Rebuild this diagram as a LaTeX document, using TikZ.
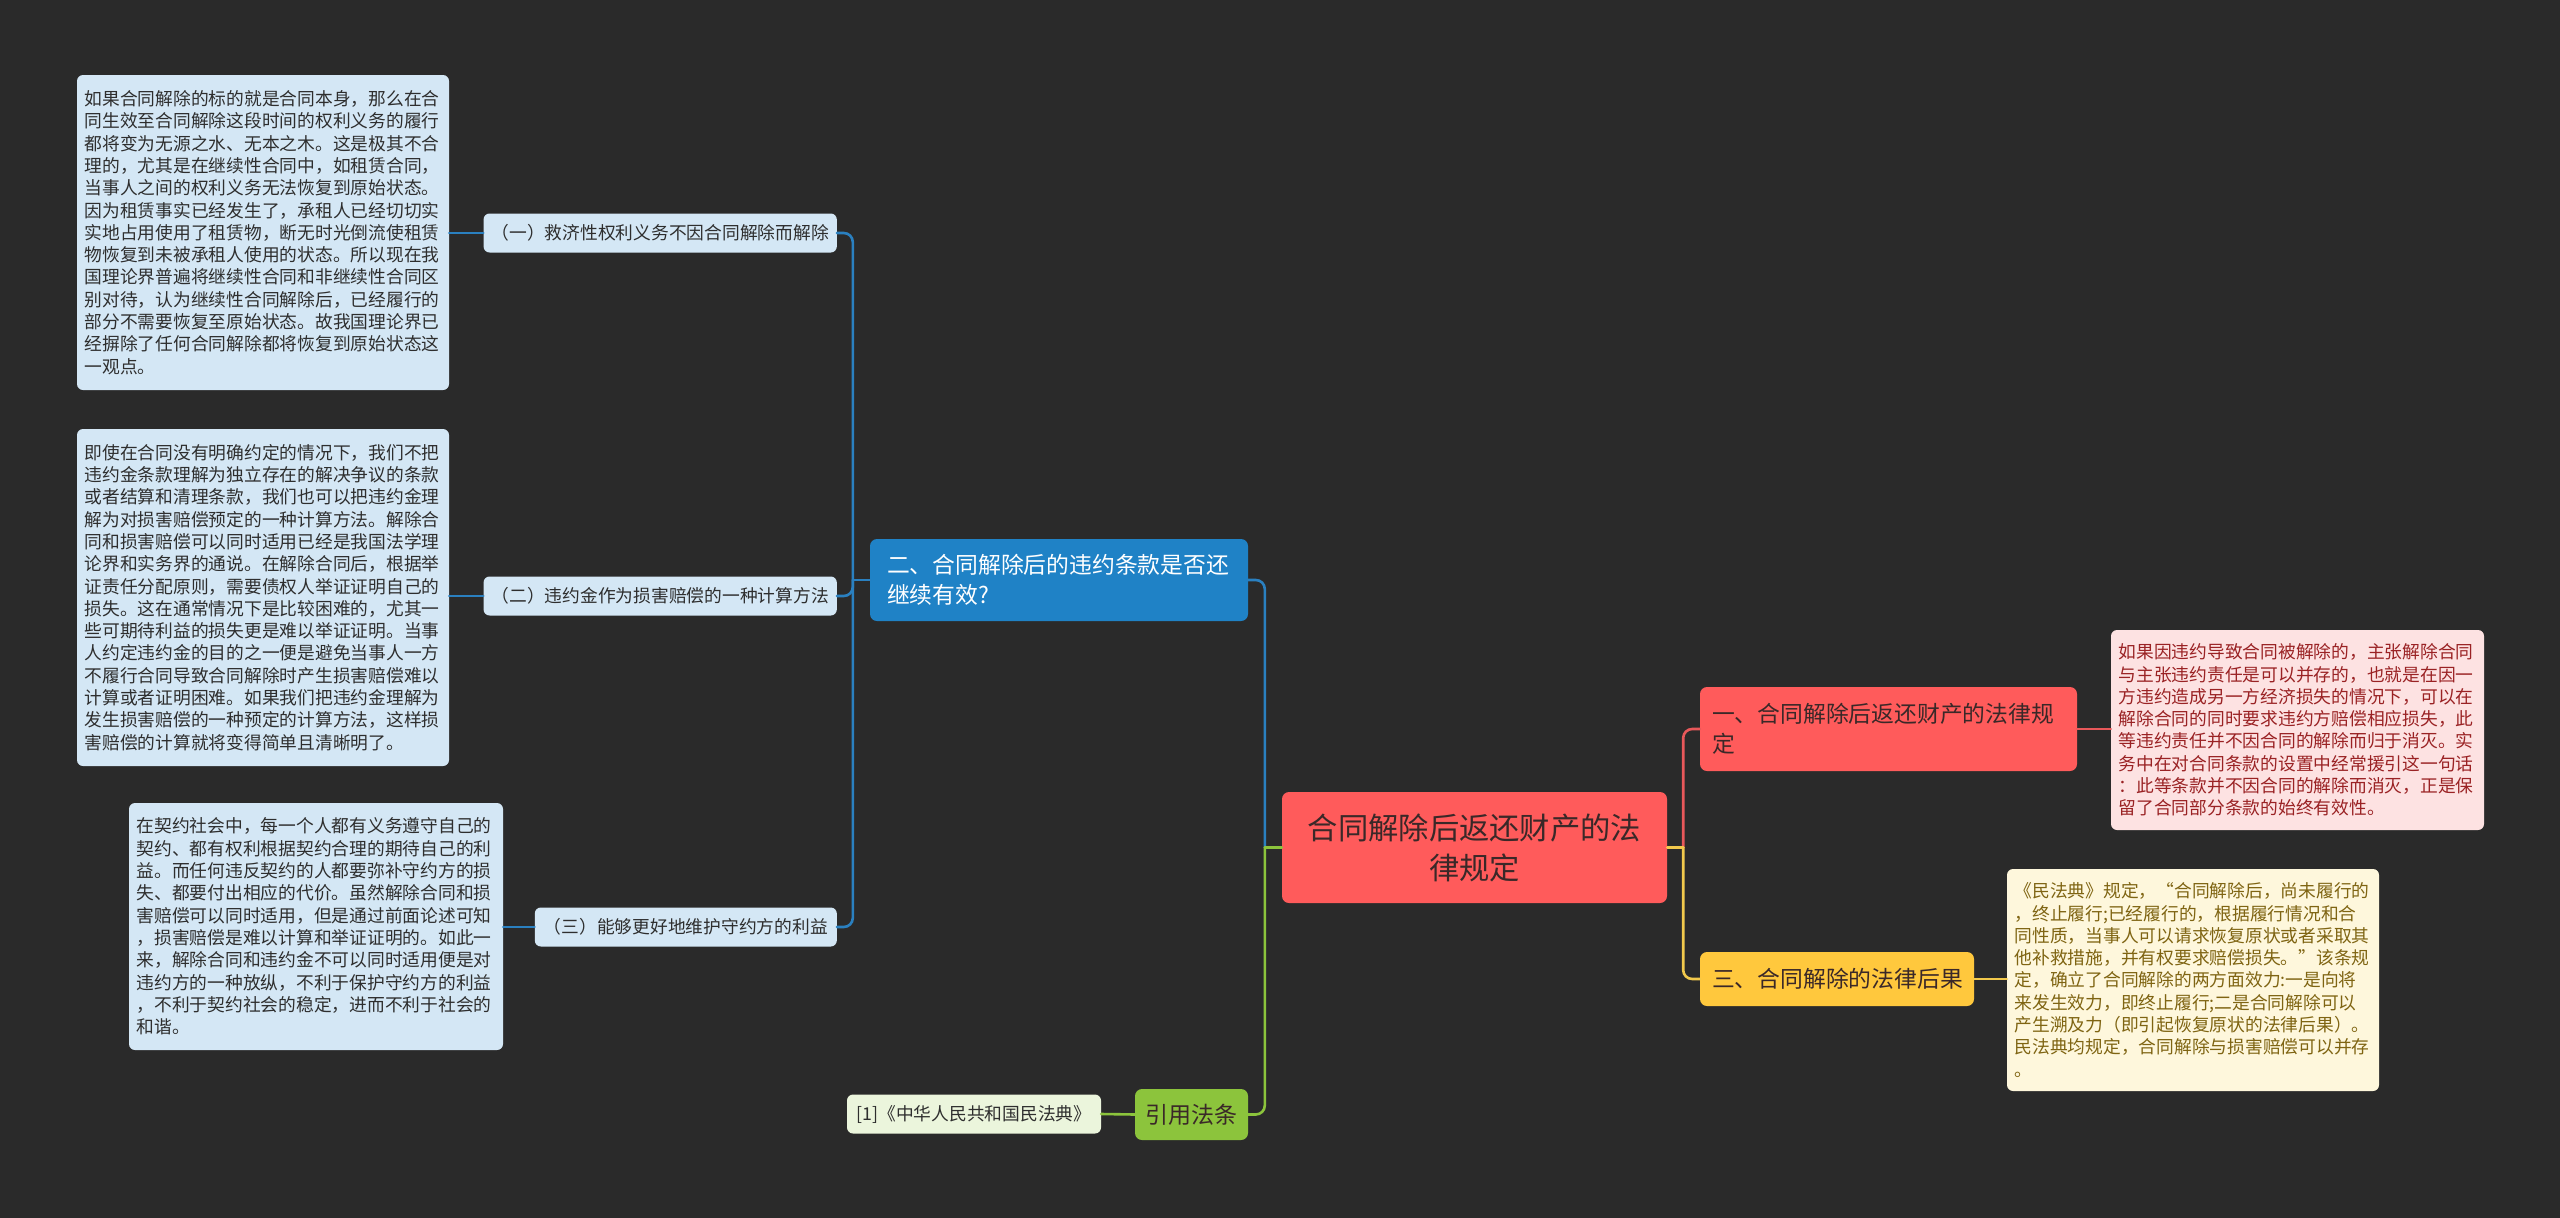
\documentclass[tikz,border=0pt]{standalone}
\usepackage{fontspec}
\setmainfont{Noto Sans CJK SC}
\definecolor{bgc}{HTML}{2A2A2A}
\definecolor{bluenode}{HTML}{1F82C6}
\definecolor{blueline}{HTML}{2A80C0}
\definecolor{lightblue}{HTML}{D4E7F5}
\definecolor{rednode}{HTML}{FF5B5B}
\definecolor{redline}{HTML}{E8585A}
\definecolor{reddetail}{HTML}{FDE2E2}
\definecolor{redtext}{HTML}{9A2224}
\definecolor{yellownode}{HTML}{FFC83D}
\definecolor{yellowline}{HTML}{F2C94C}
\definecolor{yellowdetail}{HTML}{FEF7DC}
\definecolor{yellowtext}{HTML}{7F6412}
\definecolor{greennode}{HTML}{8CC43C}
\definecolor{greendetail}{HTML}{EBF5DC}
\definecolor{darktext}{HTML}{2E2E2E}
\definecolor{roottext}{HTML}{3A2828}
\tikzset{
  detailbox/.style={fill=lightblue, rounded corners=6pt, inner sep=0pt, align=left,
    font=\fontsize{17.75}{22.3}\selectfont, text=darktext},
  subbox/.style={fill=lightblue, rounded corners=6pt, inner xsep=8pt, inner ysep=0pt,
    minimum height=39pt, font=\fontsize{17.75}{22.3}\selectfont, text=darktext},
  mainbox/.style={rounded corners=7pt, inner sep=0pt, align=left,
    font=\fontsize{22.8}{30}\selectfont},
  conn/.style={line width=2.6pt, rounded corners=9pt, line cap=round},
  stub/.style={line width=2.6pt, line cap=round},
}
\begin{document}
\begin{tikzpicture}[x=1pt,y=-1pt]
\useasboundingbox (0,0) rectangle (2560,1218);
\fill[bgc] (0,0) rectangle (2560,1218);

% root
\node[rounded corners=7pt, fill=rednode, text=roottext, inner sep=0pt,
  minimum width=385pt, minimum height=111pt, text width=345pt, align=center,
  font=\fontsize{30.3}{40}\selectfont] (root) at (1474.5,847.5)
  {合同解除后返还财产的法\\律规定};

% level 1
\node[mainbox, fill=bluenode, text=white, minimum width=378pt, minimum height=82pt,
  text width=344pt] (n2) at (1059,580) {二、合同解除后的违约条款是否还\\继续有效?};
\node[mainbox, fill=rednode, text=roottext, minimum width=377pt, minimum height=84pt,
  text width=353pt] (n1) at (1888.5,729) {一、合同解除后返还财产的法律规\\定};
\node[mainbox, fill=yellownode, text=roottext, minimum width=274pt, minimum height=54pt,
  text width=250pt] (n3) at (1837,979) {三、合同解除的法律后果};
\node[mainbox, fill=greennode, text=roottext, minimum width=113pt, minimum height=51pt,
  align=center, font=\fontsize{23}{30}\selectfont] (law) at (1191.5,1114.5) {引用法条};

% sub nodes
\node[subbox, anchor=east] (s1) at (837,233) {（一）救济性权利义务不因合同解除而解除};
\node[subbox, anchor=east] (s2) at (837,596) {（二）违约金作为损害赔偿的一种计算方法};
\node[subbox, anchor=east, minimum width=302pt] (s3) at (837,927) {（三）能够更好地维护守约方的利益};

% reference
\node[fill=greendetail, rounded corners=6pt, inner sep=0pt, minimum width=254pt,
  minimum height=39pt, text=darktext, font=\fontsize{17.75}{22.3}\selectfont]
  (ref) at (974,1114) {[1]《中华人民共和国民法典》};

% detail boxes
\node[detailbox, minimum width=372pt, minimum height=315pt, text width=357pt] (dA) at (263,232.5)
{如果合同解除的标的就是合同本身，那么在合\\
同生效至合同解除这段时间的权利义务的履行\\
都将变为无源之水、无本之木。这是极其不合\\
理的，尤其是在继续性合同中，如租赁合同，\\
当事人之间的权利义务无法恢复到原始状态。\\
因为租赁事实已经发生了，承租人已经切切实\\
实地占用使用了租赁物，断无时光倒流使租赁\\
物恢复到未被承租人使用的状态。所以现在我\\
国理论界普遍将继续性合同和非继续性合同区\\
别对待，认为继续性合同解除后，已经履行的\\
部分不需要恢复至原始状态。故我国理论界已\\
经摒除了任何合同解除都将恢复到原始状态这\\
一观点。};

\node[detailbox, minimum width=372pt, minimum height=337pt, text width=357pt] (dB) at (263,597.5)
{即使在合同没有明确约定的情况下，我们不把\\
违约金条款理解为独立存在的解决争议的条款\\
或者结算和清理条款，我们也可以把违约金理\\
解为对损害赔偿预定的一种计算方法。解除合\\
同和损害赔偿可以同时适用已经是我国法学理\\
论界和实务界的通说。在解除合同后，根据举\\
证责任分配原则，需要债权人举证证明自己的\\
损失。这在通常情况下是比较困难的，尤其一\\
些可期待利益的损失更是难以举证证明。当事\\
人约定违约金的目的之一便是避免当事人一方\\
不履行合同导致合同解除时产生损害赔偿难以\\
计算或者证明困难。如果我们把违约金理解为\\
发生损害赔偿的一种预定的计算方法，这样损\\
害赔偿的计算就将变得简单且清晰明了。};

\node[detailbox, minimum width=374pt, minimum height=247pt, text width=359pt] (dC) at (316,926.5)
{在契约社会中，每一个人都有义务遵守自己的\\
契约、都有权利根据契约合理的期待自己的利\\
益。而任何违反契约的人都要弥补守约方的损\\
失、都要付出相应的代价。虽然解除合同和损\\
害赔偿可以同时适用，但是通过前面论述可知\\
，损害赔偿是难以计算和举证证明的。如此一\\
来，解除合同和违约金不可以同时适用便是对\\
违约方的一种放纵，不利于保护守约方的利益\\
，不利于契约社会的稳定，进而不利于社会的\\
和谐。};

\node[detailbox, fill=reddetail, text=redtext, minimum width=373pt, minimum height=200pt,
  text width=358pt] (dR) at (2297.5,730)
{如果因违约导致合同被解除的，主张解除合同\\
与主张违约责任是可以并存的，也就是在因一\\
方违约造成另一方经济损失的情况下，可以在\\
解除合同的同时要求违约方赔偿相应损失，此\\
等违约责任并不因合同的解除而归于消灭。实\\
务中在对合同条款的设置中经常援引这一句话\\
：此等条款并不因合同的解除而消灭，正是保\\
留了合同部分条款的始终有效性。};

\node[detailbox, fill=yellowdetail, text=yellowtext, minimum width=372pt, minimum height=222pt,
  text width=357pt] (dY) at (2193,980)
{《民法典》规定，“合同解除后，尚未履行的\\
，终止履行;已经履行的，根据履行情况和合\\
同性质，当事人可以请求恢复原状或者采取其\\
他补救措施，并有权要求赔偿损失。”该条规\\
定，确立了合同解除的两方面效力:一是向将\\
来发生效力，即终止履行;二是合同解除可以\\
产生溯及力（即引起恢复原状的法律后果）。\\
民法典均规定，合同解除与损害赔偿可以并存\\
。};

% junction points
\coordinate (jl) at ([xshift=-17pt]root.west);
\coordinate (jr) at ([xshift=16pt]root.east);
\coordinate (j2) at ([xshift=-17pt]n2.west);

% connectors
\draw[conn, blueline] (jl) |- (n2.east);
\draw[conn, greennode] (jl) |- (law.east);
\draw[stub, greennode] (root.west) -- (jl);
\draw[conn, redline] (jr) |- (n1.west);
\draw[conn, yellowline] (jr) |- (n3.west);
\draw[stub, yellowline] (root.east) -- (jr);
\draw[conn, blueline] (j2) |- (s1.east);
\draw[conn, blueline] (j2) |- (s2.east);
\draw[conn, blueline] (j2) |- (s3.east);
\draw[stub, blueline] (n2.west) -- (j2);
\draw[conn, blueline] (s1.west) -- (dA.east |- s1.west);
\draw[conn, blueline] (s2.west) -- (dB.east |- s2.west);
\draw[conn, blueline] (s3.west) -- (dC.east |- s3.west);
\draw[conn, redline] (n1.east) -- (dR.west |- n1.east);
\draw[conn, yellowline] (n3.east) -- (dY.west |- n3.east);
\draw[conn, greennode] (law.west) -- (ref.east);
\end{tikzpicture}
\end{document}
